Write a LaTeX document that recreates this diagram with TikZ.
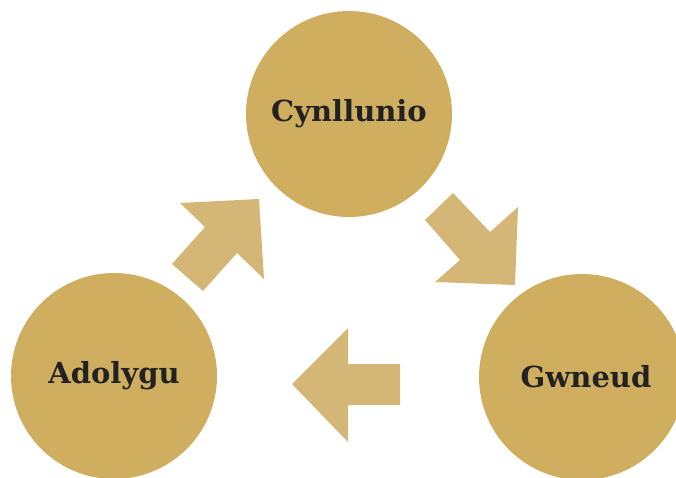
\documentclass[tikz,border=0pt]{standalone}
\usepackage{fontspec}
\newfontfamily\slabfont{DejaVu Serif}
\usepackage{xcolor}
\usepackage{tikz}
\usetikzlibrary{positioning}
\definecolor{gold}{RGB}{207,174,96}
\definecolor{lightgold}{RGB}{212,182,119}
\definecolor{ink}{RGB}{34,34,34}

\begin{document}
\begin{tikzpicture}[x=1pt, y=-1pt,
    stage/.style={circle, fill=gold, minimum size=206pt, inner sep=0pt,
        text=ink, font=\slabfont\bfseries\fontsize{29}{33}\selectfont},
    blockarrow/.style={fill=lightgold}]
    \useasboundingbox (0,0) rectangle (676,477);
    \clip (0,0) rectangle (676,477);
    % the three stages
    \node[stage] (plan) at (349,114) {Cynllunio};
    \node[stage] (review) at (114,376) {Adolygu};
    \node[stage] (do) at (582,377) {\hspace*{8pt}Gwneud};
    % arrow from Adolygu to Cynllunio
    \fill[blockarrow] (203,291) -- (237,253) -- (264,279) -- (259,199)
        -- (180,203) -- (205,227) -- (172,264) -- cycle;
    % arrow from Cynllunio to Gwneud
    \fill[blockarrow] (453,193) -- (490,232) -- (518,207) -- (515,285)
        -- (435,282) -- (460,260) -- (425,220) -- cycle;
    % arrow from Gwneud to Adolygu
    \fill[blockarrow] (292,384) -- (348,328) -- (348,364) -- (400,364)
        -- (400,405) -- (348,405) -- (348,442) -- cycle;
\end{tikzpicture}
\end{document}
